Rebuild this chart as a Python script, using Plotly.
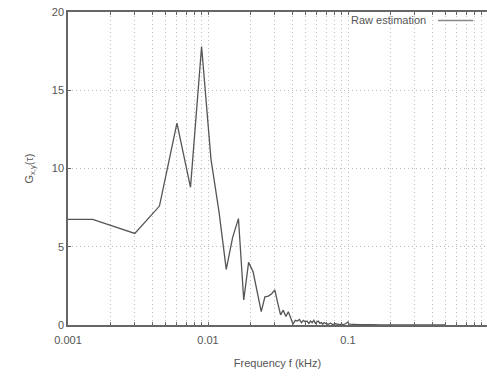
import plotly.graph_objects as go

freq_khz = [0.00075, 0.0015, 0.003, 0.0045, 0.006, 0.0075, 0.009, 0.0105, 0.012,
            0.0135, 0.015, 0.0165, 0.018, 0.0195, 0.021, 0.0225, 0.024, 0.0255,
            0.027, 0.0285, 0.03, 0.0315, 0.033, 0.0345, 0.036, 0.0375, 0.039,
            0.0405, 0.042, 0.0435, 0.045, 0.0465, 0.048, 0.0495, 0.051, 0.0525,
            0.054, 0.0555, 0.057, 0.0585, 0.06, 0.0615, 0.063, 0.0645, 0.066,
            0.0675, 0.069, 0.072, 0.075, 0.078, 0.081, 0.084, 0.087, 0.09, 0.093,
            0.096, 0.1, 0.102, 0.105, 0.11, 0.12, 0.13, 0.14, 0.15, 0.17, 0.2,
            0.25, 0.3, 0.4, 0.5]
raw_estimation = [6.75, 6.75, 5.85, 7.6, 12.9, 8.8, 17.8, 10.6, 7.2,
                  3.55, 5.6, 6.8, 1.6, 4.0, 3.4, 2.0, 0.85, 1.8,
                  1.85, 2.0, 2.25, 1.4, 0.65, 0.95, 0.55, 0.85, 0.45,
                  0.05, 0.3, 0.25, 0.35, 0.15, 0.3, 0.2, 0.25, 0.1,
                  0.25, 0.15, 0.3, 0.1, 0.2, 0.25, 0.1, 0.15, 0.05,
                  0.15, 0.1, 0.05, 0.12, 0.03, 0.08, 0.05, 0.02, 0.06, 0.03,
                  0.08, 0.2, 0.05, 0.03, 0.04, 0.02, 0.03, 0.01, 0.02, 0.01, 0.01,
                  0.005, 0.005, 0.003, 0.003]

x_tickvals = [0.001, 0.01, 0.1, 1]
x_ticktext = ["0.001", "0.01", "0.1", "1"]
x_minor_tickvals = [m * d for d in (0.001, 0.01, 0.1) for m in range(2, 10)]
y_tickvals = [0, 5, 10, 15, 20]

FONT = "Liberation Sans, Arial, sans-serif"
AX = "#666666"
GRID = "#bdbdbd"
DASH = "1px,3px"

fig = go.Figure()
fig.add_trace(go.Scatter(
    x=freq_khz, y=raw_estimation, mode="lines",
    line=dict(color="#555555", width=1.3),
    name="Raw estimation", showlegend=False,
))

fig.update_layout(
    width=487, height=377,
    margin=dict(l=68, r=0, t=12, b=52),
    paper_bgcolor="white", plot_bgcolor="white",
    font=dict(family=FONT, size=11, color="#555555"),
    xaxis=dict(
        type="log", range=[-3, -3 + 419 / 140],
        tickvals=x_tickvals, ticktext=x_ticktext,
        showline=True, linecolor=AX, linewidth=1.5, mirror="allticks",
        ticks="inside", ticklen=3, tickcolor=AX,
        showgrid=True, gridcolor=GRID, griddash=DASH, gridwidth=1,
        minor=dict(tickvals=x_minor_tickvals, ticks="inside", ticklen=3,
                   tickcolor=AX, showgrid=True,
                   gridcolor=GRID, griddash=DASH, gridwidth=1),
        zeroline=False,
        title=dict(text="Frequency f (kHz)", standoff=14, font=dict(size=11)),
        tickfont=dict(size=11),
        ticklabelstandoff=4,
    ),
    yaxis=dict(
        range=[0, 20], tickvals=y_tickvals,
        showline=True, linecolor=AX, linewidth=1.5, mirror=False,
        ticks="inside", ticklen=3, tickcolor=AX,
        showgrid=True, gridcolor=GRID, griddash=DASH, gridwidth=1,
        zeroline=False,
        title=dict(text="G<sub>x,y</sub>(τ)", standoff=16, font=dict(size=11)),
        tickfont=dict(size=11),
    ),
)

# legend (text on left, line sample on right, as in original)
fig.add_annotation(xref="paper", yref="paper", x=0.858, y=0.973,
                   xanchor="right", yanchor="middle", showarrow=False,
                   text="Raw estimation", font=dict(size=11, color="#555555"))
fig.add_shape(type="line", xref="paper", yref="paper",
              x0=0.883, x1=0.967, y0=0.973, y1=0.973,
              line=dict(color="#888888", width=1.5))

fig.write_html("out.html")
